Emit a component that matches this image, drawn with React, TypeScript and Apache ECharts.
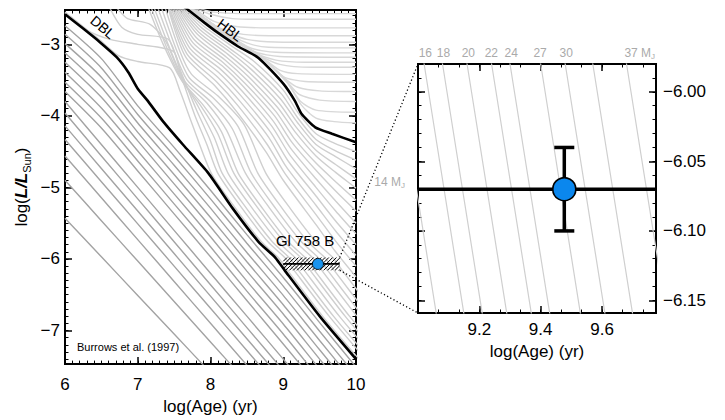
import { useEffect, useRef } from "react";
import * as echarts from "echarts";

const FONT = "Liberation Sans";

// ---------- axis ticks ----------
const leftXTicks = [6, 7, 8, 9, 10];
const leftYTicks = [-7, -6, -5, -4, -3];
const rightXTicks = [9.2, 9.4, 9.6];
const rightYTicks = [-6.15, -6.1, -6.05, -6.0];
const leftXRange = [6, 10];
const leftYRange = [-7.47, -2.52];
const zoomAge = [9.0, 9.776];
const zoomLogL = [-6.159, -5.98];

// ---------- object ----------
const objName = "Gl 758 B";
const objAge = 9.477;
const objLogL = -6.07;
const objLogLErr = 0.03;

// ---------- tracks (log age, log L) ----------
const darkX = [6, 6.5, 7, 7.5, 8, 8.5, 9, 9.5, 10];
const darkTracks = [
  [-2.74, -3.2, -3.86, -4.44, -5.04, -5.66, -6.26, -6.89, -7.51],
  [-2.86, -3.33, -3.98, -4.56, -5.16, -5.78, -6.38, -7.01, -7.63],
  [-2.99, -3.46, -4.1, -4.69, -5.29, -5.91, -6.51, -7.14, -7.76],
  [-3.12, -3.6, -4.23, -4.82, -5.42, -6.04, -6.64, -7.27, -7.89],
  [-3.25, -3.74, -4.35, -4.95, -5.55, -6.17, -6.77, -7.4, -8.02],
  [-3.39, -3.89, -4.49, -5.09, -5.69, -6.31, -6.91, -7.54, -8.16],
  [-3.53, -4.03, -4.63, -5.23, -5.83, -6.45, -7.05, -7.68, -8.3],
  [-3.66, -4.17, -4.77, -5.37, -5.97, -6.58, -7.19, -7.8, -8.4],
  [-3.8, -4.4, -5.0, -5.6, -6.2, -6.8, -7.4, -8.0, -8.6],
  [-3.96, -4.56, -5.16, -5.76, -6.36, -6.96, -7.56, -8.16, -8.76],
  [-4.14, -4.735, -5.33, -5.925, -6.52, -7.115, -7.71, -8.3, -8.9],
  [-4.33, -4.92, -5.51, -6.1, -6.69, -7.28, -7.87, -8.46, -9.05],
  [-4.56, -5.145, -5.73, -6.315, -6.9, -7.485, -8.07, -8.66, -9.24],
  [-4.9, -5.465, -6.03, -6.595, -7.16, -7.725, -8.29, -8.86, -9.42],
  [-5.43, -5.97, -6.51, -7.05, -7.59, -8.13, -8.67, -9.21, -9.75],
];

const dblTrack = [
  [6.0, -2.58], [6.25, -2.78], [6.48, -2.97], [6.71, -3.18], [6.87, -3.39], [7.0, -3.62],
  [7.13, -3.78], [7.35, -4.08], [7.62, -4.4], [7.97, -4.8], [8.31, -5.3], [8.66, -5.76],
  [8.89, -5.98], [9.02, -6.16], [9.5, -6.8], [10, -7.4],
];

const hblTrack = [
  [7.6, -2.45], [7.67, -2.5], [7.92, -2.7], [8.09, -2.83], [8.38, -3.03], [8.66, -3.19],
  [9.0, -3.55], [9.16, -3.79], [9.25, -3.97], [9.44, -4.16], [9.67, -4.25], [10, -4.37],
];

// 14, 16, 18, 20, 22, 24, 27, 30, 33, 37 M_J
const lowLightTracks = [
  [[6.0, -2.55], [6.48, -2.94], [6.74, -3.16], [7.0, -3.24], [7.44, -3.33], [7.58, -3.65], [7.75, -4.12], [8.01, -4.8], [8.35, -5.3], [8.7, -5.76], [8.93, -5.98], [9.06, -6.16], [9.54, -6.8], [10.04, -7.4]],
  [[6.0, -2.56], [6.3, -2.8], [6.62, -2.93], [7.0, -3.0], [7.49, -3.1], [7.6, -3.45], [7.78, -3.98], [7.95, -4.4], [8.1, -4.8], [8.44, -5.3], [8.79, -5.76], [9.02, -5.98], [9.15, -6.16], [9.63, -6.8], [10.13, -7.4]],
  [[6.62, -2.5], [6.78, -2.76], [7.0, -2.86], [7.42, -2.93], [7.58, -3.35], [7.8, -3.9], [8.0, -4.35], [8.16, -4.8], [8.5, -5.3], [8.85, -5.76], [9.08, -5.98], [9.21, -6.16], [9.69, -6.8], [10.19, -7.4]],
  [[6.72, -2.5], [6.86, -2.64], [7.17, -2.72], [7.38, -2.95], [7.58, -3.42], [7.82, -3.85], [8.05, -4.3], [8.24, -4.8], [8.58, -5.3], [8.93, -5.76], [9.16, -5.98], [9.29, -6.16], [9.77, -6.8], [10.27, -7.4]],
  [[7.15, -2.5], [7.35, -3.0], [7.6, -3.5], [7.86, -3.85], [8.1, -4.25], [8.32, -4.8], [8.66, -5.3], [9.01, -5.76], [9.24, -5.98], [9.37, -6.16], [9.85, -6.8], [10.35, -7.4]],
  [[7.19, -2.5], [7.4, -3.05], [7.62, -3.52], [7.9, -3.85], [8.15, -4.22], [8.38, -4.8], [8.72, -5.3], [9.07, -5.76], [9.3, -5.98], [9.43, -6.16], [9.91, -6.8], [10.41, -7.4]],
  [[7.23, -2.5], [7.45, -3.08], [7.65, -3.52], [7.95, -3.82], [8.22, -4.2], [8.48, -4.8], [8.82, -5.3], [9.17, -5.76], [9.4, -5.98], [9.53, -6.16], [10.01, -6.8]],
  [[7.28, -2.5], [7.5, -3.1], [7.68, -3.5], [8.0, -3.8], [8.3, -4.18], [8.56, -4.8], [8.9, -5.3], [9.25, -5.76], [9.48, -5.98], [9.61, -6.16], [10.09, -6.8]],
  [[7.33, -2.5], [7.54, -3.1], [7.71, -3.47], [8.05, -3.76], [8.38, -4.15], [8.65, -4.8], [8.99, -5.3], [9.34, -5.76], [9.57, -5.98], [9.7, -6.16], [10.18, -6.8]],
  [[7.38, -2.5], [7.58, -3.1], [7.74, -3.42], [8.1, -3.72], [8.46, -4.12], [8.76, -4.8], [9.1, -5.3], [9.45, -5.76], [9.68, -5.98], [9.81, -6.16], [10.29, -6.8]],
];

const highLightTracks = [
  [[7.42, -2.5], [7.66, -3.18], [8.06, -3.58], [8.36, -3.94], [8.76, -4.5], [9.0, -4.9], [9.45, -5.52], [9.72, -5.9], [10, -6.25]],
  [[7.43, -2.5], [7.68, -3.14], [8.08, -3.52], [8.38, -3.86], [8.78, -4.4], [9.02, -4.8], [9.45, -5.38], [9.72, -5.75], [10, -6.1]],
  [[7.44, -2.5], [7.7, -3.1], [8.1, -3.46], [8.4, -3.79], [8.8, -4.3], [9.04, -4.71], [9.45, -5.25], [9.72, -5.61], [10, -5.95]],
  [[7.46, -2.5], [7.72, -3.06], [8.12, -3.4], [8.42, -3.72], [8.82, -4.22], [9.06, -4.62], [9.45, -5.12], [9.72, -5.47], [10, -5.8]],
  [[7.48, -2.5], [7.74, -3.02], [8.14, -3.35], [8.44, -3.66], [8.84, -4.14], [9.08, -4.53], [9.45, -5.0], [9.72, -5.33], [10, -5.65]],
  [[7.5, -2.5], [7.76, -2.98], [8.16, -3.3], [8.46, -3.6], [8.86, -4.07], [9.1, -4.45], [9.45, -4.88], [9.72, -5.19], [10, -5.5]],
  [[7.52, -2.5], [7.78, -2.94], [8.18, -3.26], [8.48, -3.55], [8.88, -4.0], [9.12, -4.37], [9.45, -4.76], [9.72, -5.05], [10, -5.33]],
  [[7.54, -2.5], [7.8, -2.9], [8.2, -3.22], [8.5, -3.5], [8.9, -3.94], [9.14, -4.3], [9.45, -4.66], [9.72, -4.92], [10, -5.18]],
  [[7.56, -2.5], [7.82, -2.86], [8.22, -3.18], [8.52, -3.45], [8.92, -3.88], [9.16, -4.22], [9.45, -4.56], [9.72, -4.79], [10, -5.01]],
  [[7.58, -2.5], [7.84, -2.83], [8.24, -3.14], [8.54, -3.4], [8.94, -3.82], [9.18, -4.16], [9.45, -4.48], [9.72, -4.68], [10, -4.88]],
  [[7.6, -2.5], [7.86, -2.8], [8.26, -3.1], [8.56, -3.35], [8.96, -3.76], [9.2, -4.1], [9.45, -4.4], [9.72, -4.57], [10, -4.74]],
  [[7.62, -2.5], [7.88, -2.77], [8.28, -3.07], [8.58, -3.3], [8.98, -3.7], [9.2, -4.03], [9.45, -4.33], [9.7, -4.48], [10, -4.62]],
  [[7.64, -2.5], [7.9, -2.74], [8.3, -3.03], [8.6, -3.24], [9.0, -3.64], [9.2, -3.95], [9.45, -4.25], [9.7, -4.38], [10, -4.5]],
];

const stellarTracks = [
  [[7.85, -2.5], [8.05, -2.55], [8.4, -2.57], [10, -2.57]],
  [[7.8, -2.5], [8.0, -2.58], [8.3, -2.64], [8.7, -2.65], [10, -2.65]],
  [[7.78, -2.5], [8.05, -2.68], [8.35, -2.75], [8.8, -2.77], [10, -2.77]],
  [[7.76, -2.5], [8.1, -2.76], [8.45, -2.86], [8.9, -2.88], [10, -2.88]],
  [[7.75, -2.5], [8.12, -2.78], [8.5, -2.93], [9.0, -2.97], [10, -2.97]],
  [[7.74, -2.5], [8.14, -2.79], [8.5, -2.98], [8.8, -3.04], [10, -3.05]],
  [[7.73, -2.5], [8.15, -2.8], [8.55, -3.05], [8.9, -3.11], [10, -3.12]],
  [[7.72, -2.5], [8.15, -2.8], [8.6, -3.1], [8.95, -3.17], [10, -3.18]],
  [[7.71, -2.5], [8.15, -2.8], [8.62, -3.12], [8.9, -3.22], [9.3, -3.25], [10, -3.25]],
  [[7.7, -2.5], [8.14, -2.81], [8.65, -3.14], [8.95, -3.28], [9.4, -3.32], [10, -3.32]],
  [[7.7, -2.5], [8.14, -2.81], [8.67, -3.15], [8.95, -3.36], [9.2, -3.41], [10, -3.42]],
  [[7.69, -2.5], [8.13, -2.82], [8.68, -3.16], [9.0, -3.45], [9.3, -3.52], [10, -3.53]],
  [[7.69, -2.5], [8.13, -2.82], [8.69, -3.17], [9.05, -3.5], [9.2, -3.6], [9.5, -3.65], [10, -3.66]],
  [[7.68, -2.5], [8.12, -2.83], [8.7, -3.18], [9.05, -3.52], [9.22, -3.7], [9.5, -3.78], [10, -3.8]],
  [[7.68, -2.5], [8.12, -2.83], [8.7, -3.18], [9.05, -3.53], [9.24, -3.8], [9.45, -3.92], [10, -3.95]],
  [[7.68, -2.5], [8.11, -2.83], [8.7, -3.19], [9.06, -3.54], [9.25, -3.85], [9.45, -4.03], [9.7, -4.08], [10, -4.1]],
];

// ---------- labels ----------
const topMassLabels = ["16", "18", "20", "22", "24", "27", "30"];
const topMassAges = [9.024, 9.083, 9.164, 9.239, 9.304, 9.398, 9.483];
const lastMassLabel = "37";
const lastMassAge = 9.684;
const leftMassLabel = "14";
const leftMassLogL = -6.065;
const dblLabelPos = [6.52, -2.76];
const hblLabelPos = [8.27, -2.8];
const objLabelPos = [9.3, -5.737];
const creditPos = [6.165, -7.235];

function steps(a: number, b: number, d: number) {
  const out: number[] = [];
  for (let v = a; v <= b + 1e-9; v += d) out.push(Math.round(v * 10000) / 10000);
  return out;
}
const leftXMinor = steps(6, 10, 0.1);
const leftYMinor = steps(-7.4, -2.6, 0.1);
const rightXMinor = steps(9.0, 9.77, 0.2 / 3);
const rightYMinor = steps(-6.15, -5.99, 0.01);

const minus = (s: string) => s.replace("-", "\u2212");

function tickAxis(gridIndex: number, position: string, range: number[], values: number[], length: number, width: number, label?: any, extra?: any) {
  return {
    type: "value",
    gridIndex,
    position,
    offset: 0,
    min: range[0],
    max: range[1],
    axisLine: { show: false },
    splitLine: { show: false },
    axisTick: { show: true, inside: true, length, lineStyle: { color: "#000", width }, customValues: values },
    axisLabel: label ? { show: true, customValues: values, color: "#000", fontFamily: FONT, ...label } : { show: false },
    ...(extra || {}),
  };
}

const DARK = "#a3a3a3";
const LIGHT = "#cfcfcf";
const STELLAR = "#d8d8d8";
const BLUE = "#0b87ee";

function buildOption() {
  const xAxis = [
    tickAxis(0, "bottom", leftXRange, leftXTicks, 7, 1.5, { fontSize: 17, margin: 12, formatter: (v: number) => String(v) }, {
      name: "log(Age) (yr)", nameLocation: "middle", nameGap: 31, nameTextStyle: { fontSize: 17, color: "#000", fontFamily: FONT },
    }),
    tickAxis(0, "bottom", leftXRange, leftXMinor, 3.5, 1),
    tickAxis(0, "top", leftXRange, leftXTicks, 7, 1.5),
    tickAxis(0, "top", leftXRange, leftXMinor, 3.5, 1),
    tickAxis(1, "bottom", zoomAge, rightXTicks, 7, 1.5, { fontSize: 17, margin: 8, formatter: (v: number) => v.toFixed(1) }, {
      name: "log(Age) (yr)", nameLocation: "middle", nameGap: 29, nameTextStyle: { fontSize: 17, color: "#000", fontFamily: FONT },
    }),
    tickAxis(1, "bottom", zoomAge, rightXMinor, 3.5, 1),
    tickAxis(1, "top", zoomAge, rightXTicks, 7, 1.5),
    tickAxis(1, "top", zoomAge, rightXMinor, 3.5, 1),
  ];
  const yAxis = [
    tickAxis(0, "left", leftYRange, leftYTicks, 7, 1.5, { fontSize: 17, margin: 5, formatter: (v: number) => minus(String(v)) }, {
      name: "{n|log(}{b|L/L}{s|Sun}{n|)}",
      nameLocation: "middle",
      nameRotate: 90,
      nameGap: 33,
      nameTextStyle: {
        rich: {
          n: { fontSize: 17, fontFamily: FONT, color: "#000", lineHeight: 22 },
          b: { fontSize: 17, fontFamily: FONT, color: "#000", fontWeight: "bold", fontStyle: "italic", lineHeight: 22 },
          s: { fontSize: 11, fontFamily: FONT, color: "#000", lineHeight: 22, verticalAlign: "bottom", padding: [6, 0, 0, 0] },
        },
      },
    }),
    tickAxis(0, "left", leftYRange, leftYMinor, 3.5, 1),
    tickAxis(0, "right", leftYRange, leftYTicks, 7, 1.5),
    tickAxis(0, "right", leftYRange, leftYMinor, 3.5, 1),
    tickAxis(1, "right", zoomLogL, rightYTicks, 7, 1.5, { fontSize: 17, margin: 7, formatter: (v: number) => minus(v.toFixed(2)) }),
    tickAxis(1, "right", zoomLogL, rightYMinor, 3.5, 1),
    tickAxis(1, "left", zoomLogL, rightYTicks, 7, 1.5),
    tickAxis(1, "left", zoomLogL, rightYMinor, 3.5, 1),
  ];

  const series: any[] = [];
  const line = (data: number[][], color: string, width: number, xi: number, z: number, smooth = 0) => ({
    type: "line", data, xAxisIndex: xi, yAxisIndex: xi, symbol: "none", showSymbol: false, silent: true,
    lineStyle: { color, width }, z, clip: true, smooth,
  });
  stellarTracks.forEach((t) => series.push(line(t, STELLAR, 1.4, 0, 1, 0.25)));
  highLightTracks.forEach((t) => series.push(line(t, LIGHT, 1.4, 0, 1, 0.25)));
  lowLightTracks.forEach((t) => series.push(line(t, LIGHT, 1.4, 0, 1, 0.25)));
  darkTracks.forEach((ys) => series.push(line(darkX.map((x, i) => [x, ys[i]]), DARK, 1.4, 0, 2, 0.25)));
  series.push(line(dblTrack, "#000", 2.6, 0, 5, 0.2));
  series.push(line(hblTrack, "#000", 2.6, 0, 5, 0.2));

  // hatched box
  series.push({
    type: "custom", xAxisIndex: 0, yAxisIndex: 0, silent: true, z: 6,
    data: [[zoomAge[0], zoomLogL[1], zoomAge[1], zoomLogL[0]]],
    encode: { x: [0, 2], y: [1, 3] },
    renderItem: (_p: any, api: any) => {
      const a = api.coord([api.value(0), api.value(1)]);
      const b = api.coord([api.value(2), api.value(3)]);
      const xL = Math.min(a[0], b[0]), xR = Math.max(a[0], b[0]);
      const yT = Math.min(a[1], b[1]), yB = Math.max(a[1], b[1]);
      const h = yB - yT;
      const children: any[] = [];
      for (let xs = xL - h; xs < xR; xs += 3.8) {
        const t0 = Math.max(0, xL - xs), t1 = Math.min(h, xR - xs);
        if (t1 > t0) children.push({ type: "line", shape: { x1: xs + t0, y1: yB - t0, x2: xs + t1, y2: yB - t1 }, style: { stroke: "#000", lineWidth: 1 } });
      }
      return { type: "group", children };
    },
  });
  series.push(line([[zoomAge[0], objLogL], [zoomAge[1], objLogL]], "#000", 1.8, 0, 7));
  series.push({
    type: "scatter", xAxisIndex: 0, yAxisIndex: 0, data: [[objAge, objLogL]], symbolSize: 11, silent: true, z: 8,
    itemStyle: { color: "#1a94ee", borderColor: "#000", borderWidth: 0.8, opacity: 1 },
  });

  const text = (pos: number[], formatter: string, extra: any, xi = 0) => ({
    type: "scatter", xAxisIndex: xi, yAxisIndex: xi, data: [pos], symbolSize: 0, silent: true, clip: false, z: 9,
    itemStyle: { color: "transparent", opacity: 1 },
    label: { show: true, formatter, position: "inside", color: "#000", opacity: 1, fontFamily: FONT, ...extra },
  });
  series.push(text(dblLabelPos, "DBL", { fontSize: 14, rotate: -40 }));
  series.push(text(hblLabelPos, "HBL", { fontSize: 14, rotate: -37 }));
  series.push(text(objLabelPos, objName, { fontSize: 15 }));
  series.push(text(creditPos, "Burrows et al. (1997)", { fontSize: 11, position: "right", distance: 0 }));

  // right panel
  [...lowLightTracks, ...highLightTracks].forEach((t) => series.push(line(t, LIGHT, 1.2, 4, 1)));
  series.push(line([[zoomAge[0], objLogL], [zoomAge[1], objLogL]], "#000", 3.5, 4, 6));
  series.push({
    type: "custom", xAxisIndex: 4, yAxisIndex: 4, silent: true, z: 7,
    data: [[objAge, objLogL - objLogLErr, objLogL + objLogLErr]],
    encode: { x: 0, y: [1, 2] },
    renderItem: (_p: any, api: any) => {
      const lo = api.coord([api.value(0), api.value(1)]);
      const hi = api.coord([api.value(0), api.value(2)]);
      const w = 10;
      const st = { stroke: "#000", lineWidth: 3.5 };
      return {
        type: "group",
        children: [
          { type: "line", shape: { x1: lo[0], y1: lo[1], x2: hi[0], y2: hi[1] }, style: st },
          { type: "line", shape: { x1: lo[0] - w, y1: lo[1], x2: lo[0] + w, y2: lo[1] }, style: st },
          { type: "line", shape: { x1: hi[0] - w, y1: hi[1], x2: hi[0] + w, y2: hi[1] }, style: st },
        ],
      };
    },
  });
  series.push({
    type: "scatter", xAxisIndex: 4, yAxisIndex: 4, data: [[objAge, objLogL]], symbolSize: 23, silent: true, z: 8,
    itemStyle: { color: BLUE, borderColor: "#000", borderWidth: 1.6, opacity: 1 },
  });
  const massRich = {
    a: { fontSize: 12, color: "#aaa", fontFamily: FONT, lineHeight: 14 },
    s: { fontSize: 8, color: "#aaa", fontFamily: FONT, lineHeight: 14, verticalAlign: "bottom", padding: [5, 0, 0, 0] },
  };
  const labelScatter = (data: any[], label: any) => ({
    type: "scatter", xAxisIndex: 4, yAxisIndex: 4, symbolSize: 0, silent: true, clip: false, z: 9,
    itemStyle: { color: "transparent", opacity: 1 }, data,
    label: { show: true, opacity: 1, rich: massRich, ...label },
  });
  series.push(labelScatter(
    topMassAges.map((x, i) => ({ value: [x, zoomLogL[1]], name: topMassLabels[i] })),
    { position: "top", distance: 4, formatter: (p: any) => `{a|${p.name}}` },
  ));
  series.push(labelScatter(
    [{ value: [lastMassAge, zoomLogL[1]], name: lastMassLabel }],
    { position: "top", distance: 4, offset: [12, 0], formatter: (p: any) => `{a|${p.name} M}{s|J}` },
  ));
  series.push(labelScatter(
    [{ value: [zoomAge[0], leftMassLogL], name: leftMassLabel }],
    { position: "left", distance: 13, formatter: (p: any) => `{a|${p.name} M}{s|J}` },
  ));

  return {
    animation: false,
    backgroundColor: "#fff",
    textStyle: { fontFamily: FONT },
    grid: [
      { left: 65, top: 10, width: 291, height: 357, show: true, borderColor: "#000", borderWidth: 2, backgroundColor: "transparent", containLabel: false },
      { left: 418, top: 64, width: 238, height: 249, show: true, borderColor: "#000", borderWidth: 2, backgroundColor: "transparent", containLabel: false },
    ],
    xAxis,
    yAxis,
    series,
  };
}

export default function App() {
  const ref = useRef<HTMLDivElement>(null);
  useEffect(() => {
    document.body.style.margin = "0";
    const chart = echarts.init(ref.current!, undefined, { renderer: "svg" });
    chart.setOption(buildOption() as any);
    const px = (i: number, v: number[]) => chart.convertToPixel({ xAxisIndex: i, yAxisIndex: i } as any, v) as unknown as number[];
    const boxTop = px(0, [zoomAge[1], zoomLogL[1]]);
    const boxBot = px(0, [zoomAge[1], zoomLogL[0]]);
    const panTop = px(4, [zoomAge[0], zoomLogL[1]]);
    const panBot = px(4, [zoomAge[0], zoomLogL[0]]);
    const dot = { stroke: "#000", lineWidth: 1.3, lineDash: [1.2, 2.4] };
    chart.setOption({
      graphic: [
        { type: "line", silent: true, z: 10, shape: { x1: boxTop[0], y1: boxTop[1], x2: panTop[0], y2: panTop[1] }, style: dot },
        { type: "line", silent: true, z: 10, shape: { x1: boxBot[0], y1: boxBot[1], x2: panBot[0], y2: panBot[1] }, style: dot },
      ],
    });
    return () => chart.dispose();
  }, []);
  return <div ref={ref} style={{ position: "absolute", left: 0, top: 0, width: 725, height: 420 }} />;
}
